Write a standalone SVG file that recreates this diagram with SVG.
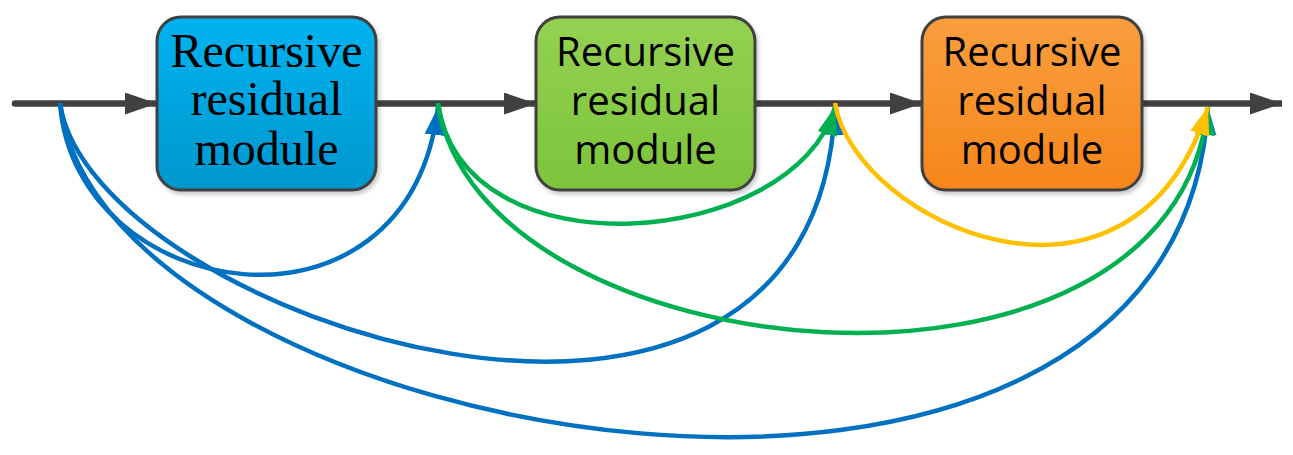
<svg xmlns="http://www.w3.org/2000/svg" width="1293" height="455" viewBox="0 0 1293 455">
  <style>
    .box { stroke: #404040; stroke-width: 3; }
    .main { stroke: #404040; stroke-width: 6.5; fill: none; }
    .curve { fill: none; stroke-width: 4.5; }
    .serif { font-family: "Liberation Serif", "Times New Roman", serif; font-size: 48px; fill: #000; text-anchor: middle; }
    .sans { font-family: "Open Sans", "Noto Sans", sans-serif; font-size: 40px; fill: #000; text-anchor: middle; }
  </style>
  <defs>
    <linearGradient id="gBlue" x1="0" y1="0" x2="0" y2="1">
      <stop offset="0" stop-color="#00B3F0"/>
      <stop offset="1" stop-color="#0097CE"/>
    </linearGradient>
    <linearGradient id="gGreen" x1="0" y1="0" x2="0" y2="1">
      <stop offset="0" stop-color="#94D152"/>
      <stop offset="1" stop-color="#7DC43B"/>
    </linearGradient>
    <linearGradient id="gOrange" x1="0" y1="0" x2="0" y2="1">
      <stop offset="0" stop-color="#F99E3E"/>
      <stop offset="1" stop-color="#F7861C"/>
    </linearGradient>
    <filter id="shadow" x="-10%" y="-10%" width="125%" height="125%">
      <feDropShadow dx="2" dy="3" stdDeviation="2" flood-color="#000" flood-opacity="0.22"/>
    </filter>
    <marker id="aGray" markerUnits="userSpaceOnUse" markerWidth="34" markerHeight="24" refX="32" refY="11" orient="auto">
      <path d="M0,0 L32,11 L0,22 z" fill="#404040"/>
    </marker>
    <marker id="aBlue" markerUnits="userSpaceOnUse" markerWidth="30" markerHeight="22" refX="28" refY="10" orient="auto">
      <path d="M0,0 L28,10 L0,20 z" fill="#0070C0"/>
    </marker>
    <marker id="aGreen" markerUnits="userSpaceOnUse" markerWidth="30" markerHeight="22" refX="28" refY="10" orient="auto">
      <path d="M0,0 L28,10 L0,20 z" fill="#00B050"/>
    </marker>
    <marker id="aYellow" markerUnits="userSpaceOnUse" markerWidth="30" markerHeight="22" refX="28" refY="10" orient="auto">
      <path d="M0,0 L28,10 L0,20 z" fill="#FFC000"/>
    </marker>
  </defs>

  <g id="connectors">
    <path class="main" d="M15,103.5 L157,103.5" stroke-linecap="round" marker-end="url(#aGray)"/>
    <path class="main" d="M376,103.5 L536,103.5" marker-end="url(#aGray)"/>
    <path class="main" d="M755,103.5 L922,103.5" marker-end="url(#aGray)"/>
    <path class="main" d="M1142,103.5 L1282,103.5" marker-end="url(#aGray)"/>

    <path class="curve" stroke="#0070C0" d="M60,103 C75,304 408,357 438,107" marker-end="url(#aBlue)"/>
    <path class="curve" stroke="#0070C0" d="M60,103 C90,316 815,557 835,107" marker-end="url(#aBlue)"/>
    <path class="curve" stroke="#0070C0" d="M60,103 C100,447 1178,638 1208,107" marker-end="url(#aBlue)"/>
    <path class="curve" stroke="#00B050" d="M438,103 C463,278 795,248 835,107" marker-end="url(#aGreen)"/>
    <path class="curve" stroke="#00B050" d="M438,103 C478,374 1173,442 1208,107" marker-end="url(#aGreen)"/>
    <path class="curve" stroke="#FFC000" d="M835,103 C855,224 1133,348 1208,107" marker-end="url(#aYellow)"/>
  </g>

  <g id="module1">
    <rect class="box" x="157" y="17" width="219" height="173" rx="24" fill="url(#gBlue)" filter="url(#shadow)"/>
    <text class="serif" x="266.5" y="66.5">Recursive</text>
    <text class="serif" x="266.5" y="115">residual</text>
    <text class="serif" x="266.5" y="165">module</text>
  </g>

  <g id="module2">
    <rect class="box" x="536" y="17" width="219" height="173" rx="24" fill="url(#gGreen)" filter="url(#shadow)"/>
    <text class="sans" x="645.5" y="65.5">Recursive</text>
    <text class="sans" x="645.5" y="115">residual</text>
    <text class="sans" x="645.5" y="164">module</text>
  </g>

  <g id="module3">
    <rect class="box" x="922" y="17" width="220" height="173" rx="24" fill="url(#gOrange)" filter="url(#shadow)"/>
    <text class="sans" x="1032" y="65.5">Recursive</text>
    <text class="sans" x="1032" y="115">residual</text>
    <text class="sans" x="1032" y="164">module</text>
  </g>
</svg>
